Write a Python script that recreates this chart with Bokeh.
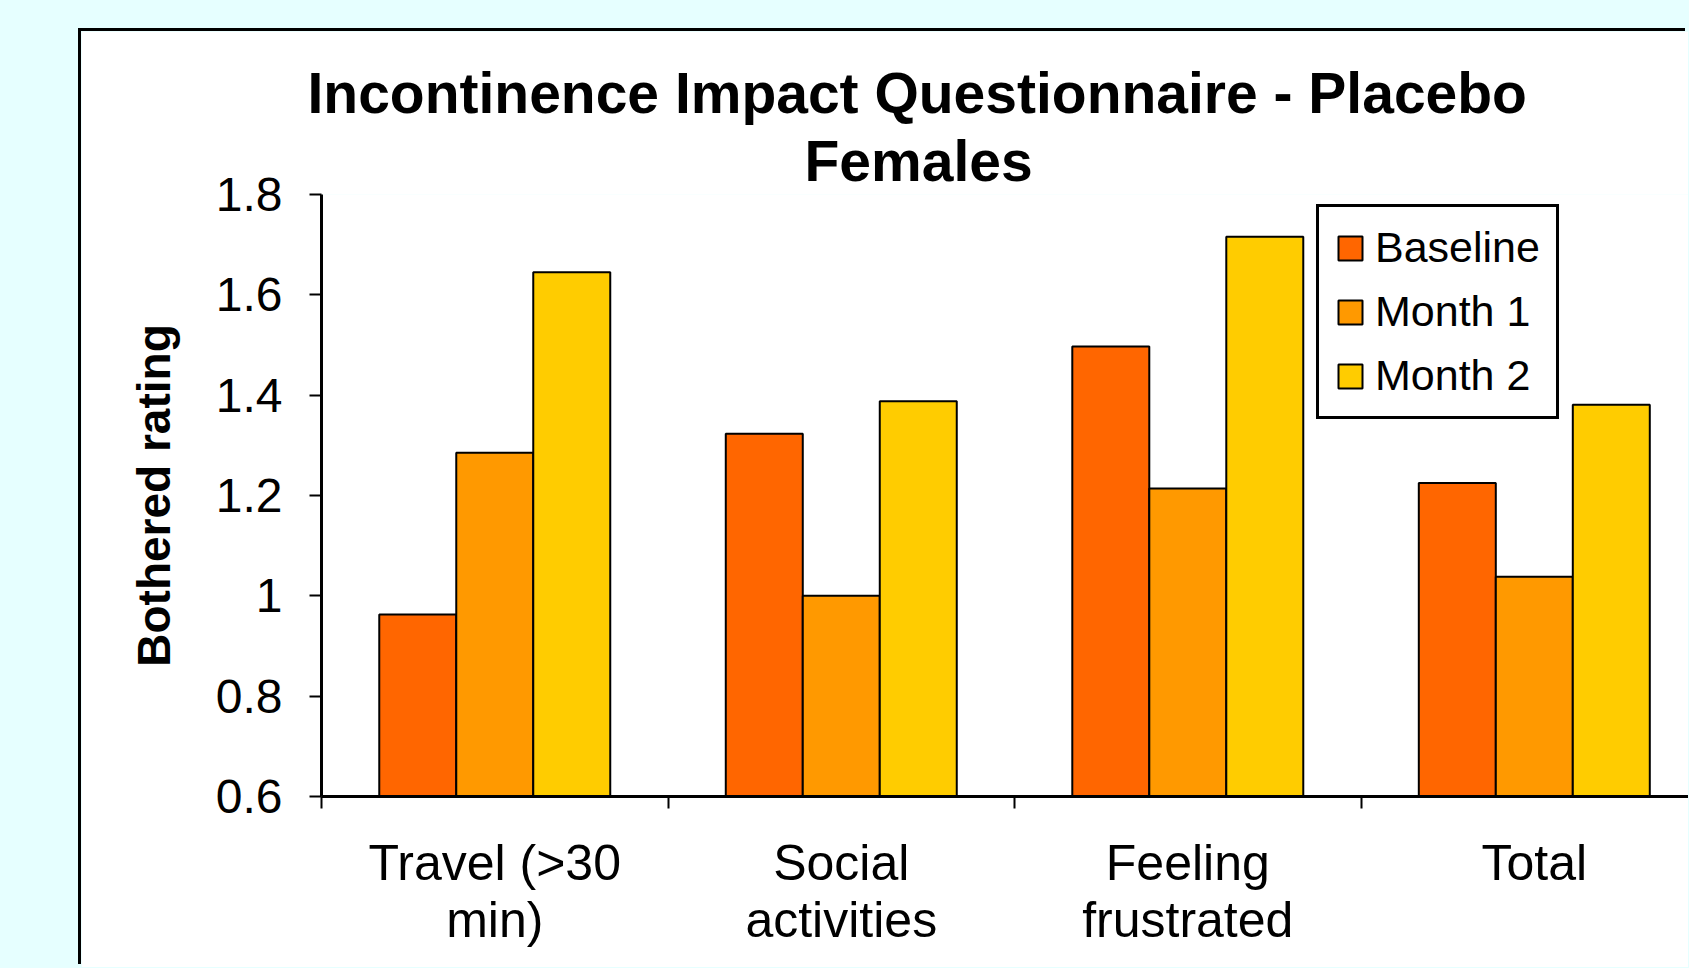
from bokeh.plotting import figure
from bokeh.models import ColumnDataSource, Range1d, FixedTicker, Title, Spacer
from bokeh.layouts import column, row
from bokeh.transform import dodge
from bokeh.embed import file_html
from bokeh.resources import INLINE

# ---------------- data ----------------
categories = ["Travel (>30\nmin)", "Social\nactivities", "Feeling\nfrustrated", "Total"]
series = ["Baseline", "Month 1", "Month 2"]
baseline = [0.963, 1.323, 1.497, 1.225]
month1 = [1.285, 1.000, 1.214, 1.038]
month2 = [1.645, 1.388, 1.716, 1.381]
y_ticks = [0.6, 0.8, 1.0, 1.2, 1.4, 1.6, 1.8]
y_tick_labels = ["0.6", "0.8", "1", "1.2", "1.4", "1.6", "1.8"]
title_lines = ["Incontinence Impact Questionnaire - Placebo", "Females"]
y_label = "Bothered rating"

# ---------------- style ----------------
colors = ["#FF6600", "#FF9900", "#FFCC00"]
FONT = "Liberation Sans"
BAR_W = 0.2222
offsets = [-BAR_W, 0.0, BAR_W]

centers = [i + 0.5 for i in range(len(categories))]
bounds = [float(i) for i in range(len(categories) + 1)]

src = ColumnDataSource({"x": centers, series[0]: baseline, series[1]: month1, series[2]: month2})

FIG_W, FIG_H = 1607, 936
p = figure(width=FIG_W, height=FIG_H, output_backend="svg", toolbar_location=None,
           title=None,
           x_range=Range1d(0, 3.945), y_range=Range1d(y_ticks[0], y_ticks[-1]),
           min_border_left=240, min_border_right=0, min_border_top=163, min_border_bottom=171)
p.background_fill_color = "white"
p.border_fill_color = "white"
p.outline_line_color = None
p.styles = {"box-shadow": "-3px -3px 0 0 black"}

p.xgrid.visible = False
p.ygrid.ticker = FixedTicker(ticks=[y_ticks[-1]])
p.ygrid.grid_line_color = "#808080"
p.ygrid.grid_line_width = 2

for name, col, off in zip(series, colors, offsets):
    p.vbar(x=dodge("x", off), top=name, bottom=y_ticks[0], width=BAR_W, source=src,
           fill_color=col, line_color="black", line_width=2, legend_label=name)

# x axis
xa = p.xaxis[0]
xa.ticker = FixedTicker(ticks=centers, minor_ticks=bounds)
xa.major_label_overrides = {c: lab for c, lab in zip(centers, categories)}
xa.major_tick_line_color = None
xa.major_tick_out = 0
xa.major_tick_in = 0
xa.minor_tick_line_color = "black"
xa.minor_tick_line_width = 2
xa.minor_tick_out = 12
xa.minor_tick_in = 0
xa.axis_line_color = "black"
xa.axis_line_width = 3
xa.major_label_text_font = FONT
xa.major_label_text_font_size = "50px"
xa.major_label_text_color = "black"
xa.major_label_text_line_height = 1.03
xa.major_label_standoff = 26

# y axis
ya = p.yaxis[0]
ya.ticker = FixedTicker(ticks=y_ticks)
ya.major_label_overrides = dict(zip(y_ticks, y_tick_labels))
ya.major_tick_line_color = "black"
ya.major_tick_line_width = 2
ya.major_tick_out = 12
ya.major_tick_in = 0
ya.minor_tick_line_color = None
ya.axis_line_color = "black"
ya.axis_line_width = 3
ya.major_label_text_font = FONT
ya.major_label_text_font_size = "48px"
ya.major_label_text_color = "black"
ya.major_label_standoff = 27
ya.axis_label = y_label
ya.axis_label_text_font = FONT
ya.axis_label_text_font_size = "46px"
ya.axis_label_text_font_style = "bold"
ya.axis_label_text_color = "black"
ya.axis_label_standoff = 33

# titles (first added is closest to the plot)
p.add_layout(Title(text=title_lines[1], align="left", offset=483, text_font=FONT,
                   text_font_size="57px", text_font_style="bold", text_color="black",
                   standoff=4), "above")
p.add_layout(Title(text=title_lines[0], align="left", offset=-14, text_font=FONT,
                   text_font_size="57px", text_font_style="bold", text_color="black",
                   standoff=0), "above")

# legend
leg = p.legend[0]
leg.location = (995, 377)
leg.label_text_font = FONT
leg.label_text_font_size = "43px"
leg.label_text_color = "black"
leg.glyph_width = 30
leg.glyph_height = 30
leg.label_standoff = 10
leg.label_height = 44
leg.padding = 16
leg.spacing = 15
leg.margin = 0
leg.border_line_color = "black"
leg.border_line_width = 3
leg.border_line_alpha = 1.0
leg.background_fill_color = "white"
leg.background_fill_alpha = 1.0

layout = column(Spacer(width=1, height=31), row(Spacer(width=81, height=1), p))

tpl = None
try:
    from bokeh.core.templates import FILE
    tpl = FILE.environment.from_string(
        '{% extends "file.html" %}'
        '{% block preamble %}<style>html, body { background: #E6FFFF; }</style>{% endblock %}'
    )
except Exception:
    tpl = None

if tpl is not None:
    html = file_html(layout, INLINE, title="Incontinence Impact Questionnaire", template=tpl)
else:
    html = file_html(layout, INLINE, title="Incontinence Impact Questionnaire")
open("out.html", "w").write(html)
